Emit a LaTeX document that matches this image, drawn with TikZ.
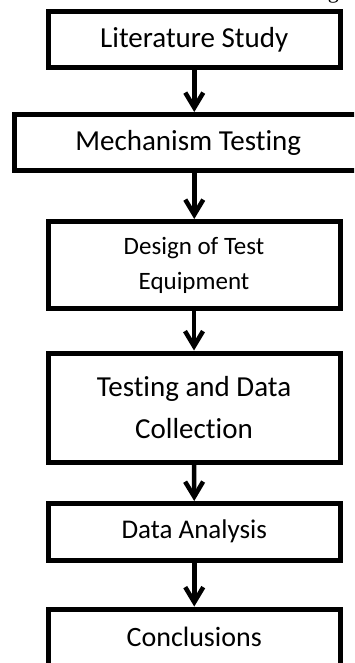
\documentclass[tikz,border=0pt]{standalone}
\usepackage{fontspec}
\setmainfont{Carlito}[Ligatures=NoCommon]
\newfontfamily\capfont{Liberation Serif}
\usetikzlibrary{arrows.meta}
\begin{document}
\begin{tikzpicture}[x=1pt,y=-1pt,
	stagebox/.style={draw,line width=5pt,align=center,inner sep=0pt},
	flowarrow/.style={line width=4.5pt,-{Straight Barb[length=15pt,width=18pt]}}]
	\useasboundingbox (0,0) rectangle (354,663);
	\clip (0,0) rectangle (354,663);
	\node[anchor=base east,font=\capfont\fontsize{22}{22}\selectfont,inner sep=0pt] (capfrag) at (339,-1) {g};
	\node[stagebox,minimum width=291.5pt,minimum height=56pt,font=\fontsize{29}{35}\selectfont] (lit) at (194.25,39.5) {Literature Study};
	\node[stagebox,minimum width=347.5pt,minimum height=56pt,font=\fontsize{29}{35}\selectfont] (mech) at (188.25,142.5) {Mechanism Testing};
	\node[stagebox,minimum width=292pt,minimum height=87pt,font=\fontsize{25}{35}\selectfont] (design) at (194,265) {Design of Test\\Equipment};
	\node[stagebox,minimum width=292pt,minimum height=109.5pt,font=\fontsize{29}{42}\selectfont] (testing) at (194,407.75) {Testing and Data\\Collection};
	\node[stagebox,minimum width=291.5pt,minimum height=56.5pt,font=\fontsize{27}{35}\selectfont] (analysis) at (194.25,531.75) {Data Analysis};
	\node[stagebox,minimum width=291.5pt,minimum height=56.5pt,font=\fontsize{28}{35}\selectfont] (concl) at (194.25,637.25) {Conclusions};
	\draw[flowarrow] (lit.south) -- (lit.south |- mech.north);
	\draw[flowarrow] (lit.south |- mech.south) -- (lit.south |- design.north);
	\draw[flowarrow] (design.south) -- (testing.north);
	\draw[flowarrow] (testing.south) -- (analysis.north);
	\draw[flowarrow] (analysis.south) -- (concl.north);
\end{tikzpicture}
\end{document}
